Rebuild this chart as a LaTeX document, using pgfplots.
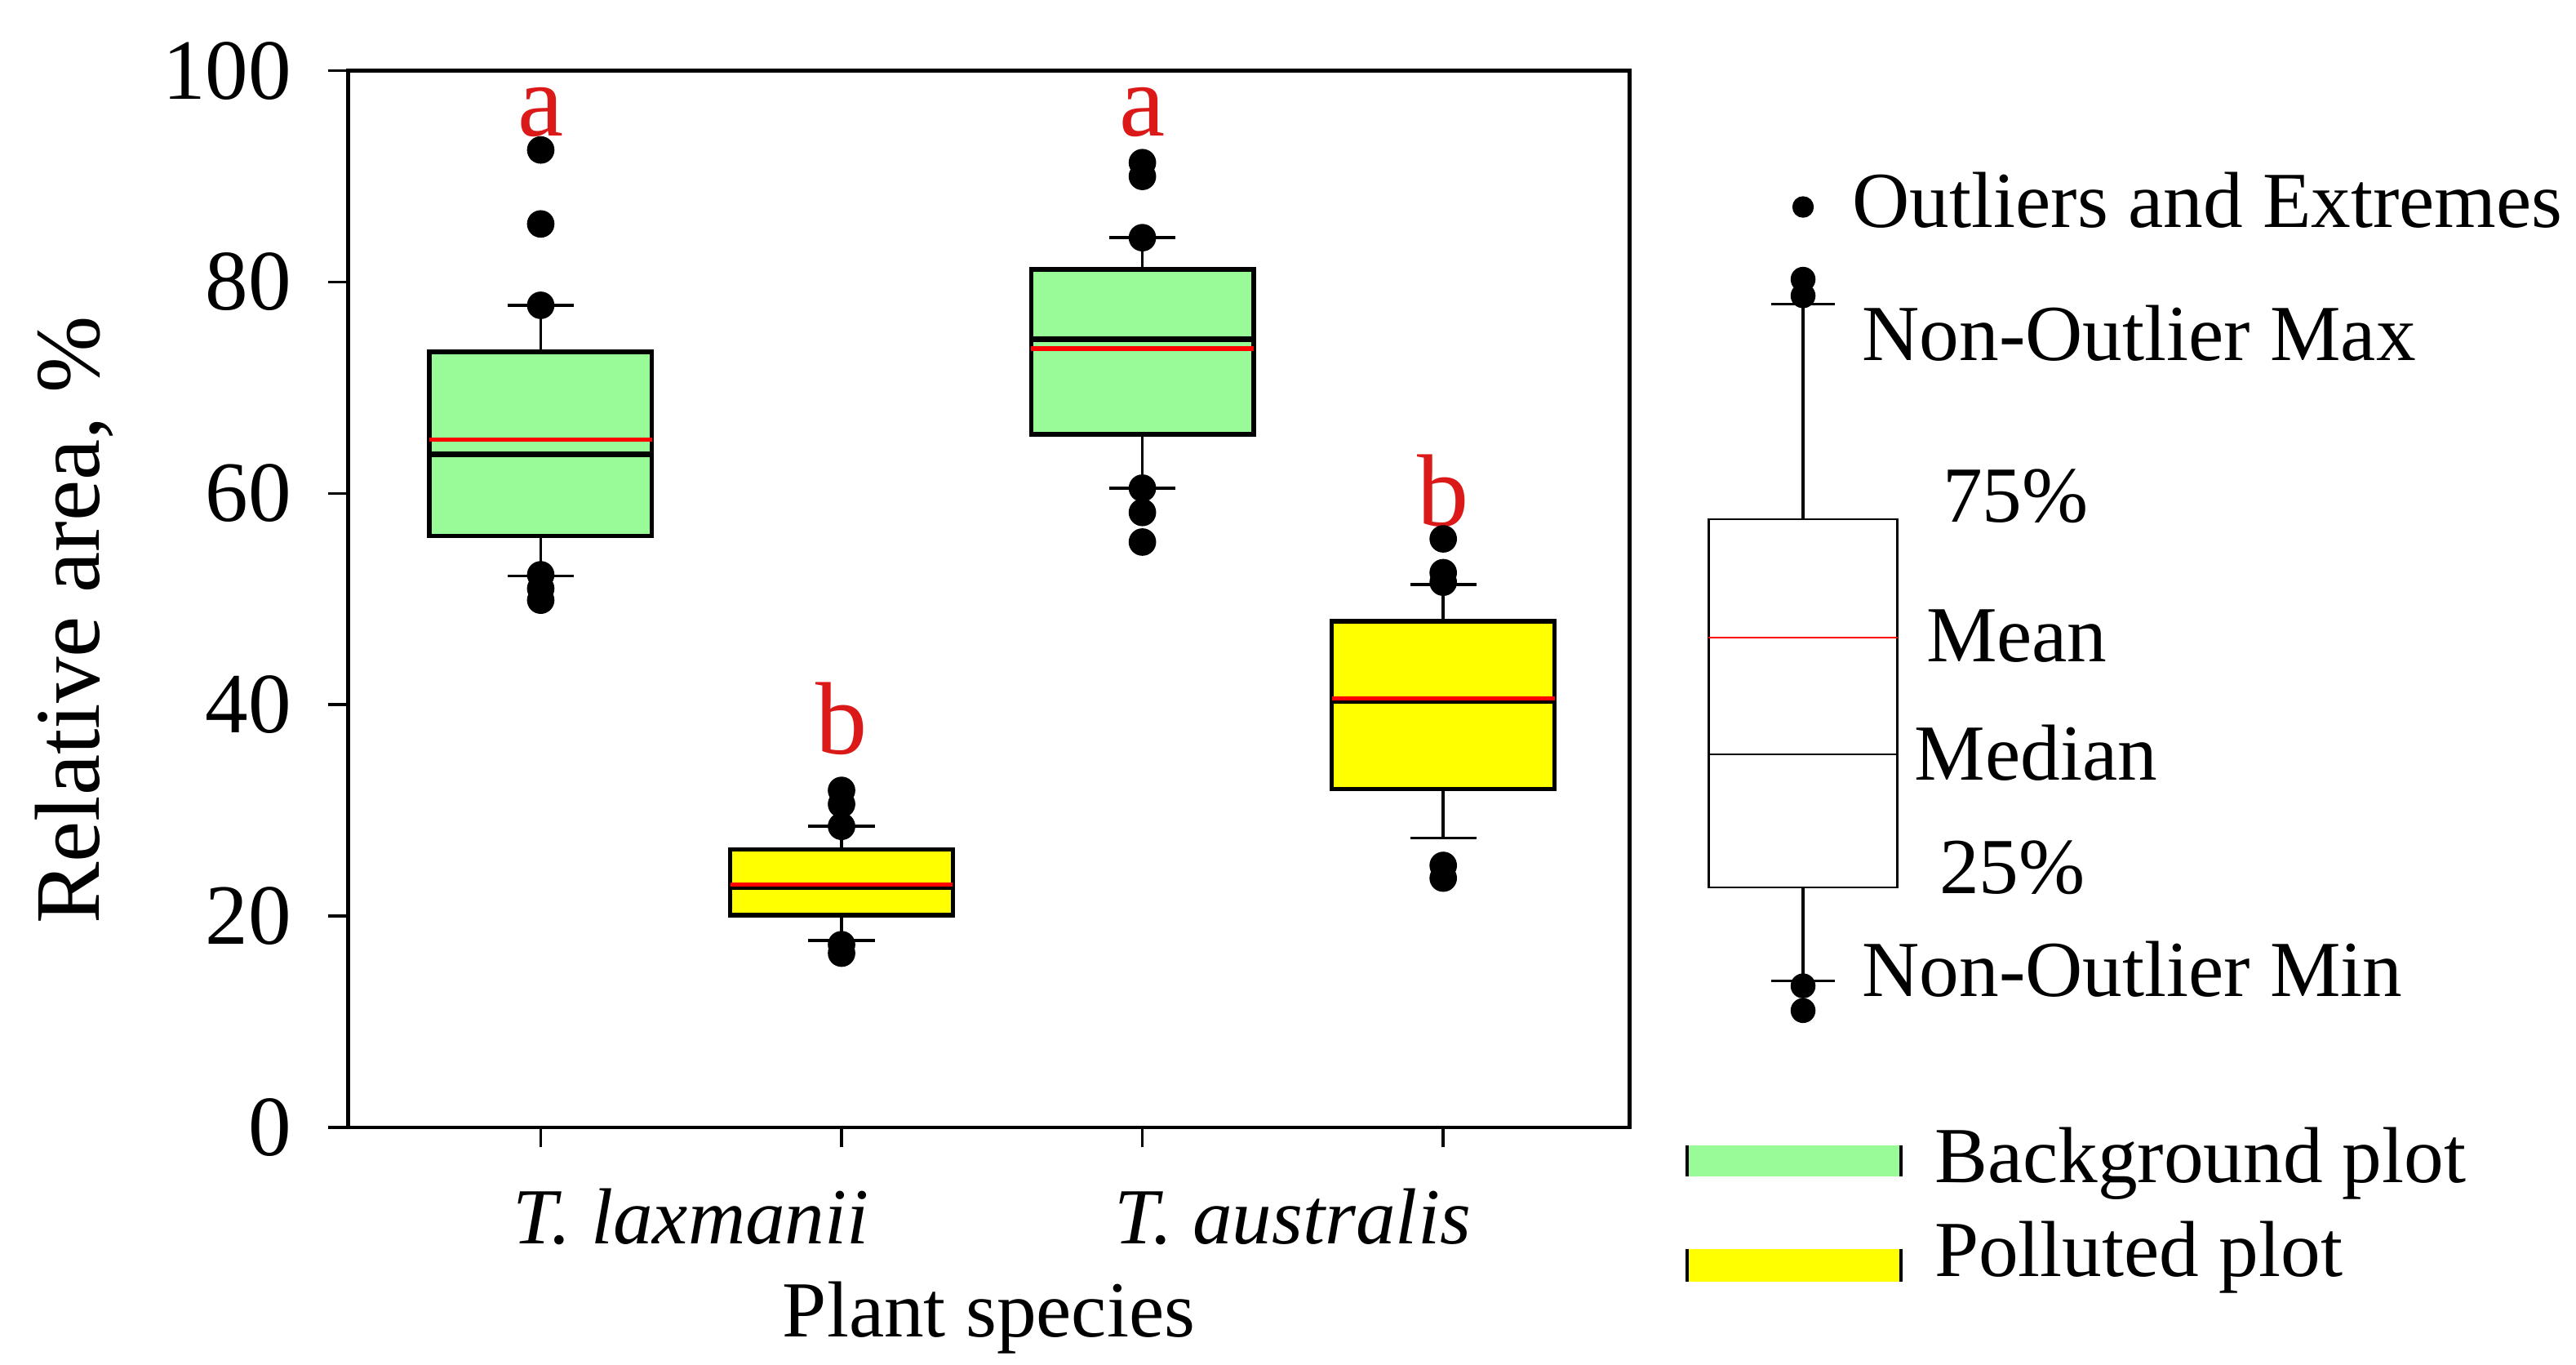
\documentclass[border=0pt]{standalone}
\usepackage{pgfplots}
\pgfplotsset{compat=1.18}
\usepgfplotslibrary{statistics}
\usepackage{fontspec}
\setmainfont{Liberation Serif}

\definecolor{bggreen}{RGB}{152,251,152}
\definecolor{polyellow}{RGB}{255,255,0}
\definecolor{letred}{RGB}{220,25,25}

\tikzset{keytext/.style={anchor=west, inner sep=0pt}}

\pgfplotsset{
  boxplot/draw/average/.code={%
    \draw[/pgfplots/boxplot/every average/.try]
      (boxplot box cs:\pgfplotsboxplotvalue{average},0) --
      (boxplot box cs:\pgfplotsboxplotvalue{average},1);
  },
  sbox/.style={
    black, mark=*, mark size=3pt, mark options={fill=black, draw=black},
    boxplot/draw direction=y,
    boxplot/box extend=0.74,
    boxplot/whisker extend=0.22,
    boxplot/every box/.style={draw=black, line width=1pt, fill=#1},
    boxplot/every whisker/.style={black, line width=0.7pt},
    boxplot/every median/.style={black, line width=1.4pt},
    boxplot/every average/.style={red, line width=1pt},
  },
}

\begin{document}
\begin{tikzpicture}[font=\fontsize{18.5}{22}\selectfont]
\path[use as bounding box] (0,0) rectangle (600pt,317.87pt);

% main plot
\begin{axis}[
  at={(81.1pt,55.3pt)}, anchor=south west,
  scale only axis, width=298.5pt, height=246.1pt,
  xmin=0.36, xmax=4.62, ymin=0, ymax=100,
  ytick={0,20,...,100},
  xtick={1,2,3,4}, xticklabels={},
  extra x ticks={1.5,3.5},
  extra x tick labels={\textit{T. laxmanii},\textit{T. australis}},
  extra x tick style={major tick length=0pt,
    tick label style={anchor=center, yshift=-20.7pt}},
  tick align=outside, major tick length=4.6pt,
  xtick pos=bottom, ytick pos=left,
  tick style={black, line width=0.7pt},
  axis line style={line width=0.9pt},
  yticklabel style={font=\fontsize{20}{24}\selectfont, anchor=east,
    inner sep=0pt, xshift=-8.4pt},
  /pgf/number format/assume math mode=true,
  xlabel={Plant species},
  ylabel={Relative area, \%},
  every axis x label/.style={at={(axis description cs:0.5,-0.18)}, anchor=center},
  every axis y label/.style={at={(axis description cs:-0.214,0.48)}, anchor=center,
    rotate=90, font=\fontsize{21.5}{24}\selectfont},
]
% T. laxmanii, background plot
\addplot[sbox=bggreen, boxplot prepared={draw position=1,
  lower whisker=52.2, lower quartile=56.0, median=63.7,
  upper quartile=73.4, upper whisker=77.8, average=65.1}]
  coordinates {(1,92.5) (1,85.5) (1,77.8) (1,52.3) (1,51.0) (1,49.9)};
% T. laxmanii, polluted plot
\addplot[sbox=polyellow, boxplot prepared={draw position=2,
  lower whisker=17.7, lower quartile=20.1, median=22.8,
  upper quartile=26.3, upper whisker=28.5, average=23.0}]
  coordinates {(2,31.9) (2,30.6) (2,28.5) (2,17.3) (2,16.5)};
% T. australis, background plot
\addplot[sbox=bggreen, boxplot prepared={draw position=3,
  lower whisker=60.5, lower quartile=65.6, median=74.6,
  upper quartile=81.2, upper whisker=84.2, average=73.7}]
  coordinates {(3,91.3) (3,90.0) (3,84.2) (3,60.5) (3,58.2) (3,55.4)};
% T. australis, polluted plot
\addplot[sbox=polyellow, boxplot prepared={draw position=4,
  lower whisker=27.4, lower quartile=32.0, median=40.4,
  upper quartile=47.9, upper whisker=51.4, average=40.6}]
  coordinates {(4,55.7) (4,52.5) (4,51.6) (4,24.8) (4,23.6)};

\node[text=letred, font=\fontsize{24}{28}\selectfont] at (axis cs:1,96.1) {a};
\node[text=letred, font=\fontsize{24}{28}\selectfont] at (axis cs:2,38.7) {b};
\node[text=letred, font=\fontsize{24}{28}\selectfont] at (axis cs:3,96.1) {a};
\node[text=letred, font=\fontsize{24}{28}\selectfont] at (axis cs:4,60.2) {b};
\end{axis}

% key on the right, in picture units
\begin{axis}[
  at={(0pt,0pt)}, anchor=south west,
  scale only axis, width=600pt, height=317.87pt,
  xmin=0, xmax=1568, ymin=0, ymax=830.7,
  axis lines=none, clip=false,
]
\addplot[black, mark=*, mark size=2.7pt, mark options={fill=black},
  boxplot/draw direction=y,
  boxplot/every box/.style={draw=black, line width=0.5pt, fill=white},
  boxplot/every whisker/.style={black, line width=0.6pt},
  boxplot/every median/.style={black, line width=0.5pt},
  boxplot/every average/.style={red, line width=0.5pt},
  boxplot prepared={draw position=1097.5,
    lower whisker=233.7, lower quartile=290.7, median=371.7,
    upper quartile=514.7, upper whisker=645.7, average=442.7,
    box extend=115, whisker extend=39}]
  coordinates {(1097.5,660.7) (1097.5,650.7) (1097.5,230.7) (1097.5,215.7)};
\addplot[only marks, mark=*, mark size=2.3pt, black] coordinates {(1097.5,704.7)};

\node[keytext] at (axis cs:1127,708.7) {Outliers and Extremes};
\node[keytext] at (axis cs:1133,627.7) {Non-Outlier Max};
\node[keytext] at (axis cs:1182,528.7) {75\%};
\node[keytext] at (axis cs:1172,443.7) {Mean};
\node[keytext] at (axis cs:1165,372.7) {Median};
\node[keytext] at (axis cs:1180,302.7) {25\%};
\node[keytext] at (axis cs:1133,240.7) {Non-Outlier Min};

\addplot[fill=bggreen, draw=none] coordinates {(1027,133.7) (1157,133.7) (1157,114.7) (1027,114.7)} --cycle;
\addplot[black, line width=0.8pt] coordinates {(1027,133.7) (1027,114.7)};
\addplot[black, line width=0.8pt] coordinates {(1157,133.7) (1157,114.7)};
\addplot[fill=polyellow, draw=none] coordinates {(1027,70.7) (1157,70.7) (1157,50.7) (1027,50.7)} --cycle;
\addplot[black, line width=0.8pt] coordinates {(1027,70.7) (1027,50.7)};
\addplot[black, line width=0.8pt] coordinates {(1157,70.7) (1157,50.7)};
\node[keytext] at (axis cs:1177,122.7) {Background plot};
\node[keytext] at (axis cs:1177,65.7) {Polluted plot};
\end{axis}
\end{tikzpicture}
\end{document}
